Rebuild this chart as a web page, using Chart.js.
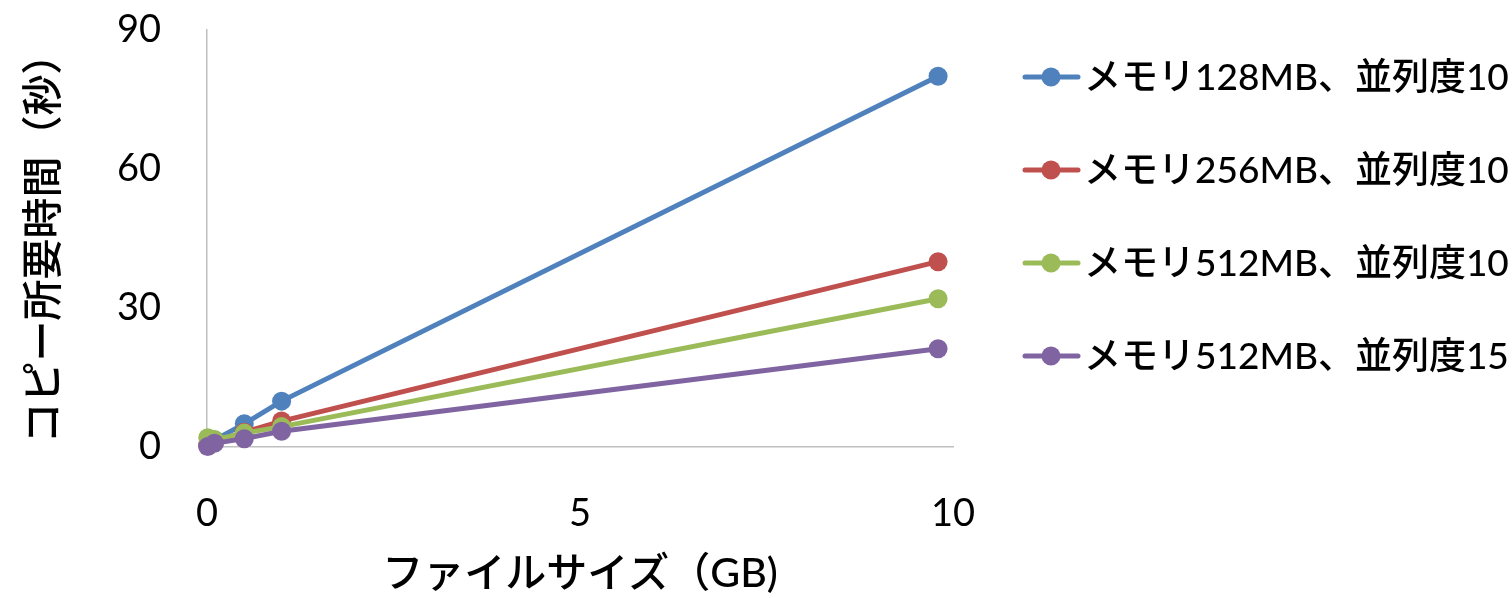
<!DOCTYPE html>
<html>
<head>
<meta charset="utf-8">
<script src="https://cdn.jsdelivr.net/npm/chart.js@4/dist/chart.umd.min.js"></script>
<style>
  html, body { margin: 0; padding: 0; background: #ffffff; }
  #wrap { width: 1512px; height: 598px; }
</style>
</head>
<body>
<div id="wrap"><canvas id="chart" width="1512" height="598"></canvas></div>
<script>
// File sizes (GB) measured for every configuration
const fileSizeGB = [0.01, 0.1, 0.5, 1, 9.8];

// Copy time (seconds) per configuration
const mem128par10 = [0.3, 1.5, 5.0, 9.9, 80];
const mem256par10 = [0.4, 1.0, 3.2, 5.6, 40];
const mem512par10 = [2.0, 1.6, 3.0, 4.4, 32];
const mem512par15 = [0.1, 0.8, 1.8, 3.4, 21.2];

const seriesLabels = [
  'メモリ128MB、並列度10',
  'メモリ256MB、並列度10',
  'メモリ512MB、並列度10',
  'メモリ512MB、並列度15'
];
const seriesColors = ['#4F81BD', '#C0504D', '#9BBB59', '#8064A2'];
const yTicks = [0, 30, 60, 90];
const xTicks = [0, 5, 10];

const FONT_LATIN_JP = 'Lato, "Noto Sans CJK JP", sans-serif';

const toPoints = (ys) => fileSizeGB.map((x, i) => ({ x: x, y: ys[i] }));
const allSeries = [mem128par10, mem256par10, mem512par10, mem512par15];

const datasets = allSeries.map((ys, i) => ({
  label: seriesLabels[i],
  data: toPoints(ys),
  borderColor: seriesColors[i],
  backgroundColor: seriesColors[i],
  pointBackgroundColor: seriesColors[i],
  pointBorderColor: seriesColors[i],
  pointRadius: 9.5,
  pointBorderWidth: 0,
  borderWidth: 5,
  tension: 0,
  clip: false,
  order: allSeries.length - i
}));

// Legend on the right: line + marker swatch followed by the series name
const sideLegend = {
  id: 'sideLegend',
  afterDraw(chart) {
    const ctx = chart.ctx;
    ctx.save();
    chart.data.datasets.forEach((ds, i) => {
      const y = 77 + i * 93;
      ctx.strokeStyle = ds.borderColor;
      ctx.lineWidth = 5;
      ctx.lineCap = 'round';
      ctx.beginPath();
      ctx.moveTo(1025, y);
      ctx.lineTo(1078, y);
      ctx.stroke();
      ctx.fillStyle = ds.borderColor;
      ctx.beginPath();
      ctx.arc(1051, y, 9.5, 0, Math.PI * 2);
      ctx.fill();
      ctx.fillStyle = '#000000';
      ctx.font = '500 37px ' + FONT_LATIN_JP;
      ctx.textBaseline = 'middle';
      ctx.textAlign = 'left';
      ctx.fillText(ds.label, 1084, y + 1);
    });
    ctx.restore();
  }
};

// Keep the plot area edges fixed: no extra room reserved for tick label overhang
const noOverhang = (scale) => {
  scale.paddingTop = 0;
  scale.paddingBottom = 0;
  scale.paddingLeft = 0;
  scale.paddingRight = 0;
};

new Chart(document.getElementById('chart'), {
  type: 'line',
  data: { datasets: datasets },
  plugins: [sideLegend],
  options: {
    responsive: false,
    animation: false,
    devicePixelRatio: 1,
    layout: { padding: { left: 0, right: 559, top: 30, bottom: 0 } },
    plugins: {
      legend: { display: false },
      tooltip: { enabled: false }
    },
    scales: {
      x: {
        type: 'linear',
        min: 0,
        max: 10,
        afterBuildTicks(scale) { scale.ticks = xTicks.map(v => ({ value: v })); },
        afterFit(scale) { scale.height = 151; noOverhang(scale); },
        grid: { display: false, drawTicks: false },
        border: { display: true, color: '#BFBFBF', width: 1.5 },
        ticks: {
          color: '#000000',
          padding: 44,
          font: { family: FONT_LATIN_JP, size: 38 }
        },
        title: {
          display: true,
          text: 'ファイルサイズ（GB)',
          color: '#000000',
          padding: { top: 0, bottom: 0 },
          font: { family: FONT_LATIN_JP, size: 41, weight: '500' }
        }
      },
      y: {
        type: 'linear',
        min: 0,
        max: 90,
        afterBuildTicks(scale) { scale.ticks = yTicks.map(v => ({ value: v })); },
        afterFit(scale) { scale.width = 207; noOverhang(scale); },
        grid: { display: false, drawTicks: false },
        border: { display: true, color: '#BFBFBF', width: 1.5 },
        ticks: {
          color: '#000000',
          padding: 46,
          font: { family: FONT_LATIN_JP, size: 38 }
        },
        title: {
          display: true,
          text: 'コピー所要時間（秒）',
          color: '#000000',
          padding: { top: 19, bottom: 0 },
          font: { family: FONT_LATIN_JP, size: 41, weight: '500' }
        }
      }
    }
  }
});
</script>
</body>
</html>
